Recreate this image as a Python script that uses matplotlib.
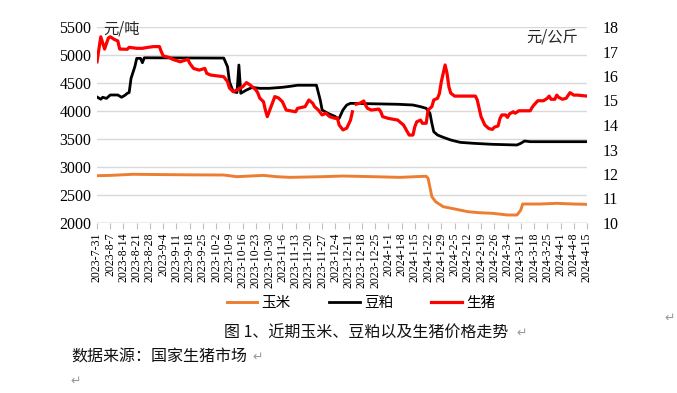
import matplotlib
matplotlib.use("Agg")
import matplotlib.pyplot as plt
import numpy as np
import pandas as pd

# ---------------- data ----------------
tick_labels = ["2023-7-31", "2023-8-7", "2023-8-14", "2023-8-21", "2023-8-28", "2023-9-4",
               "2023-9-11", "2023-9-18", "2023-9-25", "2023-10-2", "2023-10-9", "2023-10-16",
               "2023-10-23", "2023-10-30", "2023-11-6", "2023-11-13", "2023-11-20", "2023-11-27",
               "2023-12-4", "2023-12-11", "2023-12-18", "2023-12-25", "2024-1-1", "2024-1-8",
               "2024-1-15", "2024-1-22", "2024-1-29", "2024-2-5", "2024-2-12", "2024-2-19",
               "2024-2-26", "2024-3-4", "2024-3-11", "2024-3-18", "2024-3-25", "2024-4-1",
               "2024-4-8", "2024-4-15"]

# 玉米 (元/吨, left axis)
corn_dates = ["2023-07-31", "2023-08-07", "2023-08-19", "2023-09-02", "2023-09-18", "2023-10-06",
              "2023-10-13", "2023-10-20", "2023-10-27", "2023-11-03", "2023-11-10", "2023-11-27",
              "2023-12-08", "2023-12-24", "2024-01-07", "2024-01-21", "2024-01-22", "2024-01-24",
              "2024-01-26", "2024-01-30", "2024-02-06", "2024-02-12", "2024-02-18", "2024-02-25",
              "2024-03-04", "2024-03-09", "2024-03-11", "2024-03-12", "2024-03-21", "2024-03-30",
              "2024-04-08", "2024-04-15"]
corn_vals = [2845, 2850, 2870, 2865, 2860, 2857, 2827, 2839, 2850, 2827, 2815, 2827,
             2839, 2827, 2815, 2835, 2798, 2470, 2380, 2291, 2244, 2202, 2184, 2173,
             2143, 2143, 2232, 2339, 2339, 2351, 2339, 2333]

# 豆粕 (元/吨, left axis)
meal_dates = ["2023-07-31", "2023-08-02", "2023-08-03", "2023-08-05", "2023-08-07", "2023-08-11",
              "2023-08-13", "2023-08-15", "2023-08-16", "2023-08-17", "2023-08-18", "2023-08-20",
              "2023-08-21", "2023-08-23", "2023-08-24", "2023-08-25", "2023-10-06", "2023-10-08",
              "2023-10-09", "2023-10-11", "2023-10-13", "2023-10-14", "2023-10-15", "2023-10-18",
              "2023-10-21", "2023-10-25", "2023-10-30", "2023-11-06", "2023-11-10", "2023-11-14",
              "2023-11-24", "2023-11-26", "2023-11-27", "2023-11-30", "2023-12-02", "2023-12-04",
              "2023-12-05", "2023-12-06", "2023-12-08", "2023-12-10", "2023-12-12", "2024-01-06",
              "2024-01-14", "2024-01-18", "2024-01-21", "2024-01-23", "2024-01-24", "2024-01-25",
              "2024-01-27", "2024-01-30", "2024-02-03", "2024-02-08", "2024-02-15", "2024-02-25",
              "2024-03-09", "2024-03-11", "2024-03-13", "2024-03-16", "2024-04-15"]
meal_vals = [4250, 4210, 4245, 4225, 4286, 4286, 4245, 4286, 4316, 4330, 4584, 4791,
             4940, 4940, 4862, 4950, 4945, 4790, 4523, 4345, 4330, 4821, 4316, 4375,
             4420, 4405, 4405, 4423, 4440, 4460, 4460, 4196, 4018, 3959, 3929, 3900,
             3860, 3870, 4018, 4107, 4137, 4120, 4107, 4077, 4048, 3959, 3780, 3630,
             3571, 3530, 3482, 3440, 3423, 3405, 3393, 3423, 3464, 3452, 3452]

# 生猪 (元/公斤, right axis)
hog_dates = ["2023-07-31", "2023-08-02", "2023-08-04", "2023-08-06", "2023-08-07", "2023-08-09",
             "2023-08-11", "2023-08-12", "2023-08-16", "2023-08-17", "2023-08-21", "2023-08-24",
             "2023-08-27", "2023-08-30", "2023-09-02", "2023-09-03", "2023-09-04", "2023-09-07",
             "2023-09-09", "2023-09-13", "2023-09-17", "2023-09-18", "2023-09-20", "2023-09-23",
             "2023-09-26", "2023-09-27", "2023-09-29", "2023-10-06", "2023-10-08", "2023-10-09",
             "2023-10-11", "2023-10-13", "2023-10-16", "2023-10-18", "2023-10-20", "2023-10-23",
             "2023-10-24", "2023-10-25", "2023-10-27", "2023-10-28", "2023-10-29", "2023-10-31",
             "2023-11-02", "2023-11-04", "2023-11-06", "2023-11-08", "2023-11-13", "2023-11-14",
             "2023-11-18", "2023-11-20", "2023-11-22", "2023-11-23", "2023-11-25", "2023-11-27",
             "2023-11-29", "2023-12-01", "2023-12-04", "2023-12-05", "2023-12-06", "2023-12-08",
             "2023-12-10", "2023-12-12", "2023-12-13", "2023-12-14", "2023-12-15", "2023-12-17",
             "2023-12-19", "2023-12-20", "2023-12-21", "2023-12-23", "2023-12-27", "2023-12-28",
             "2023-12-29", "2024-01-01", "2024-01-06", "2024-01-07", "2024-01-09", "2024-01-11",
             "2024-01-12", "2024-01-14", "2024-01-15", "2024-01-16", "2024-01-18", "2024-01-19",
             "2024-01-21", "2024-01-22", "2024-01-24", "2024-01-25", "2024-01-27", "2024-01-28",
             "2024-01-29", "2024-01-30", "2024-01-31", "2024-02-01", "2024-02-02", "2024-02-03",
             "2024-02-05", "2024-02-16", "2024-02-17", "2024-02-18", "2024-02-19", "2024-02-21",
             "2024-02-23", "2024-02-25", "2024-02-26", "2024-02-28", "2024-02-29", "2024-03-01",
             "2024-03-03", "2024-03-04", "2024-03-05", "2024-03-07", "2024-03-08", "2024-03-10",
             "2024-03-16", "2024-03-17", "2024-03-18", "2024-03-20", "2024-03-23", "2024-03-25",
             "2024-03-26", "2024-03-27", "2024-03-29", "2024-03-30", "2024-03-31", "2024-04-02",
             "2024-04-04", "2024-04-06", "2024-04-08", "2024-04-10", "2024-04-15"]
hog_vals = [16.58, 17.60, 17.10, 17.55, 17.60, 17.50, 17.43, 17.10, 17.09, 17.17, 17.13, 17.13,
            17.17, 17.20, 17.20, 16.99, 16.82, 16.76, 16.68, 16.58, 16.68, 16.52, 16.31, 16.24,
            16.31, 16.11, 16.04, 15.97, 15.77, 15.51, 15.36, 15.43, 15.56, 15.73, 15.63, 15.43,
            15.31, 15.10, 14.95, 14.61, 14.34, 14.75, 15.16, 15.10, 14.95, 14.61, 14.54, 14.68,
            14.75, 15.02, 14.89, 14.75, 14.61, 14.41, 14.48, 14.34, 14.27, 14.30, 14.00, 13.80,
            13.87, 14.20, 14.54, np.nan, 14.85, 14.89, 14.98, 14.80, 14.68, 14.61, 14.65, 14.54,
            14.34, 14.27, 14.20, 14.13, 14.00, 13.73, 13.59, 13.59, 13.93, 14.13, 14.20, 14.07,
            14.07, 14.61, 14.75, 15.02, 15.09, 15.29, 15.77, 16.11, 16.45, 16.11, 15.56, 15.30,
            15.18, 15.18, 15.02, 14.68, 14.34, 14.00, 13.86, 13.82, 13.91, 13.96, 14.27, 14.41,
            14.41, 14.31, 14.45, 14.54, 14.48, 14.58, 14.58, 14.72, 14.82, 14.99, 14.99, 15.09,
            15.18, 15.05, 15.05, 15.22, 15.13, 15.05, 15.09, 15.32, 15.22, 15.22, 15.18]

# ---------------- plot ----------------
SERIF = "Liberation Serif"
CJK = ["Noto Sans CJK SC", "DejaVu Sans"]

W, H = 677, 393
fig = plt.figure(figsize=(W / 100, H / 100), dpi=100)
fig.patch.set_facecolor("white")
ax = fig.add_axes([97 / W, 1 - 223 / H, 490 / W, 196 / H])
ax2 = ax.twinx()

l1, = ax.plot(pd.to_datetime(corn_dates), corn_vals, color="#ED7D31", lw=2.1,
              solid_joinstyle="round", label="玉米")
l2, = ax.plot(pd.to_datetime(meal_dates), meal_vals, color="#000000", lw=2.0,
              solid_joinstyle="round", label="豆粕")
l3, = ax2.plot(pd.to_datetime(hog_dates), hog_vals, color="#FF0000", lw=2.3,
               solid_joinstyle="round", label="生猪")

tick_dates = pd.to_datetime(tick_labels)
ax.set_xlim(tick_dates[0], tick_dates[-1])
ax.set_ylim(2000, 5500)
ax2.set_ylim(10, 18)
ax.set_yticks(np.arange(2000, 5501, 500))
ax2.set_yticks(np.arange(10, 19, 1))

ax.set_xticks(tick_dates)
ax.set_xticklabels(tick_labels, rotation=90, fontsize=8.6, family=SERIF)
ax.tick_params(axis="x", length=4, width=0.8, color="#bfbfbf", pad=3)
ax.tick_params(axis="y", length=0, labelsize=11.5, pad=4)
ax2.tick_params(axis="y", length=0, labelsize=11.5, pad=11)
for lab in ax.get_yticklabels() + ax2.get_yticklabels():
    lab.set_family(SERIF)

ax.yaxis.grid(True, color="#d9d9d9", lw=1.0)
ax.set_axisbelow(True)
for a in (ax, ax2):
    for s in ("top", "left", "right"):
        a.spines[s].set_visible(False)
    a.spines["bottom"].set_visible(False)
ax.axhline(2000, color="#bfbfbf", lw=1.0, zorder=1)

ax.text(0.012, 0.99, "元/吨", transform=ax.transAxes, fontsize=11, family=CJK,
        ha="left", va="center", color="#262626")
ax2.text(0.982, 0.95, "元/公斤", transform=ax.transAxes, fontsize=11, family=CJK,
         ha="right", va="center", color="#262626")

fig.legend([l1, l2, l3], ["玉米", "豆粕", "生猪"], loc="center",
           bbox_to_anchor=(361 / W, 1 - 303 / H), ncol=3, frameon=False,
           prop={"family": CJK, "size": 10.5}, handlelength=2.1,
           handletextpad=0.3, columnspacing=2.6)

fig.text(366 / W, 1 - 333 / H, "图 1、近期玉米、豆粕以及生猪价格走势", fontsize=11.5,
         family=CJK, ha="center", va="center", color="#111111")
fig.text(516 / W, 1 - 333 / H, "↵", fontsize=9, family=CJK, ha="left", va="center", color="#999999")
fig.text(71 / W, 1 - 357 / H, "数据来源：国家生猪市场", fontsize=11.5, family=CJK,
         ha="left", va="center", color="#111111")
fig.text(252 / W, 1 - 357 / H, "↵", fontsize=9, family=CJK, ha="left", va="center", color="#999999")
fig.text(70 / W, 1 - 381 / H, "↵", fontsize=9, family=CJK, ha="left", va="center", color="#999999")
fig.text(664 / W, 1 - 318 / H, "↵", fontsize=9, family=CJK, ha="left", va="center", color="#999999")

fig.savefig("out.png", dpi=100, facecolor="white")
